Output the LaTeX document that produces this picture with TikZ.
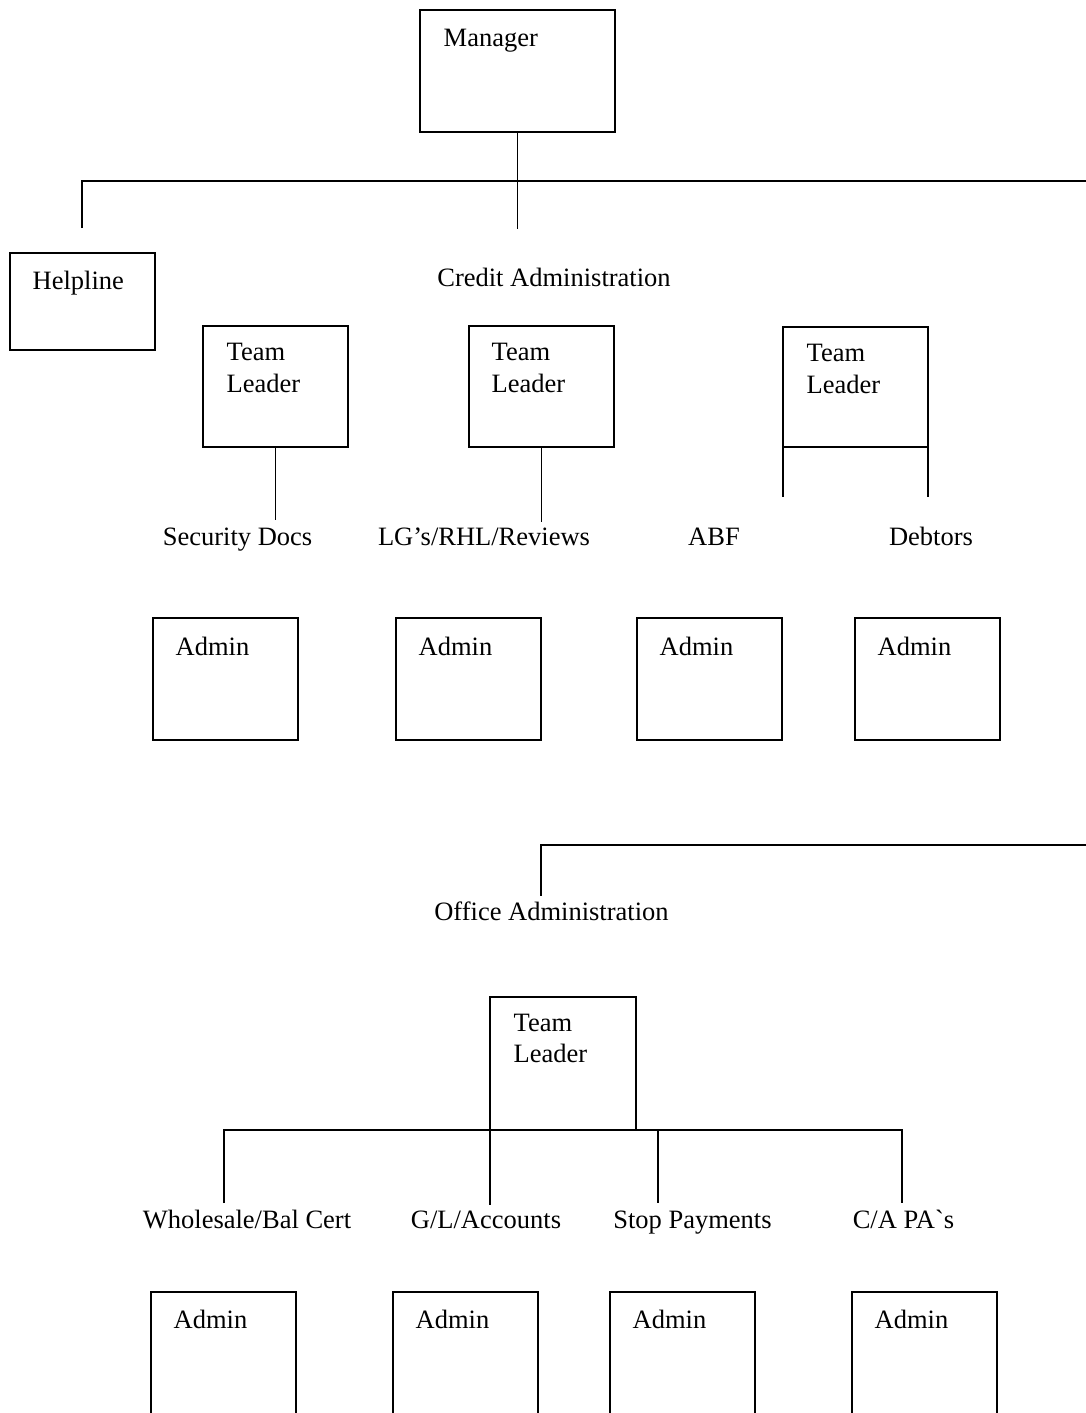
\documentclass[tikz,border=0pt]{standalone}
\usepackage{fontspec}
\setmainfont{Liberation Serif}
\newfontfamily\rawserif{Liberation Serif}
\begin{document}
\begin{tikzpicture}[x=1pt,y=-1pt,
  line width=1.4pt,
  orgbox/.style={draw=black,line width=1.5pt,rectangle,inner sep=0,outer sep=0,anchor=north west,minimum width=#1},
  orgbox/.default=145pt,
  openbox/.style={rectangle,inner sep=0,outer sep=0,anchor=north west,minimum width=145pt,minimum height=121pt},
  txt/.style={inner sep=0,anchor=base west,font=\fontsize{26.5}{32}\selectfont},
  ctxt/.style={inner sep=0,anchor=base,font=\fontsize{26.5}{32}\selectfont},
  conn/.style={draw=black,line width=1.3pt}]
\useasboundingbox (0,0) rectangle (1086,1413);
\fill[white] (0,0) rectangle (1086,1413);

% --- top level ---
\node[orgbox=195pt,minimum height=122pt] (mgr) at (420,10) {};
\node[txt] (mgrT) at (443,47) {Manager};

\coordinate (hC) at (mgr.south |- 0,181);
\coordinate (hL) at (82,181);
\coordinate (hR) at (1086,181);
\coordinate (hlEnd) at (82,228);
\coordinate (caEnd) at (mgr.south |- 0,229);
\draw[conn] (mgr.south) -- (hC);
\draw[conn] (hlEnd) -- (hL) -- (hR);
\draw[conn] (hC) -- (caEnd);

\node[orgbox,minimum height=97pt] (help) at (10,253) {};
\node[txt] (helpT) at (32,289) {Helpline};

\node[ctxt] (ca) at (554,286) {Credit Administration};

% --- team leaders (credit) ---
\node[orgbox,minimum height=121pt] (tl1) at (203,326) {};
\node[txt] (tl1a) at (226,360) {Team};
\node[txt] (tl1b) at (226,392) {Leader};
\node[orgbox,minimum height=121pt] (tl2) at (469,326) {};
\node[txt] (tl2a) at (491,360) {Team};
\node[txt] (tl2b) at (491,392) {Leader};
\node[orgbox,minimum height=120pt] (tl3) at (783,327) {};
\node[txt] (tl3a) at (806,361) {Team};
\node[txt] (tl3b) at (806,393) {Leader};

\coordinate (sdEnd) at (tl1.south |- 0,520);
\coordinate (lgEnd) at (tl2.south |- 0,522);
\coordinate (abfEnd) at (tl3.south west |- 0,497);
\coordinate (debEnd) at (tl3.south east |- 0,497);
\draw[conn] (tl1.south) -- (sdEnd);
\draw[conn] (tl2.south) -- (lgEnd);
\draw[conn] (tl3.south west) -- (abfEnd);
\draw[conn] (tl3.south east) -- (debEnd);

\node[ctxt] (sd) at (237.5,545) {Security Docs};
\node[ctxt] (lg) at (484,545) {LG’s/RHL/Reviews};
\node[ctxt] (abf) at (714,545) {ABF};
\node[ctxt] (deb) at (931,545) {Debtors};

% --- admin row 1 ---
\node[orgbox,minimum height=122pt] (a1) at (153,618) {};
\node[txt] at (175,655) {Admin};
\node[orgbox,minimum height=122pt] (a2) at (396,618) {};
\node[txt] at (418,655) {Admin};
\node[orgbox,minimum height=122pt] (a3) at (637,618) {};
\node[txt] at (659,655) {Admin};
\node[orgbox,minimum height=122pt] (a4) at (855,618) {};
\node[txt] at (877,655) {Admin};

% --- office administration ---
\coordinate (oaR) at (1086,845);
\coordinate (oaC) at (541,845);
\coordinate (oaEnd) at (541,896);
\draw[conn] (oaR) -- (oaC) -- (oaEnd);
\node[ctxt] (oa) at (551.5,920) {Office Administration};

\node[orgbox=146pt,minimum height=133pt] (tl4) at (490,997) {};
\node[txt] (tl4a) at (513,1031) {Team};
\node[txt] (tl4b) at (513,1062) {Leader};

\coordinate (bL) at (224,1130);
\coordinate (bR) at (902,1130);
\coordinate (b3) at (658,1130);
\coordinate (wsEnd) at (224,1203);
\coordinate (glEnd) at (tl4.south west |- 0,1205);
\coordinate (spEnd) at (658,1203);
\coordinate (caPEnd) at (902,1203);
\draw[conn] (wsEnd) -- (bL) -- (bR) -- (caPEnd);
\draw[conn] (tl4.south west) -- (glEnd);
\draw[conn] (b3) -- (spEnd);

\node[ctxt] (ws) at (247,1228) {Wholesale/Bal Cert};
\node[ctxt] (gl) at (486,1228) {G/L/Accounts};
\node[ctxt] (sp) at (692.5,1228) {Stop Payments};
\node[ctxt] (cap) at (903.5,1228) {C/A PA{\rawserif `}s};

% --- admin row 2 (cut off at the bottom) ---
\foreach \n/\x in {b1/151,b2/393,b3x/610,b4/852}{
  \node[openbox] (\n) at (\x,1292) {};
  \draw[line width=1.5pt] (\n.south west) -- (\n.north west) -- (\n.north east) -- (\n.south east);
  \node[txt] at (\x+22,1328) {Admin};
}
\end{tikzpicture}
\end{document}
